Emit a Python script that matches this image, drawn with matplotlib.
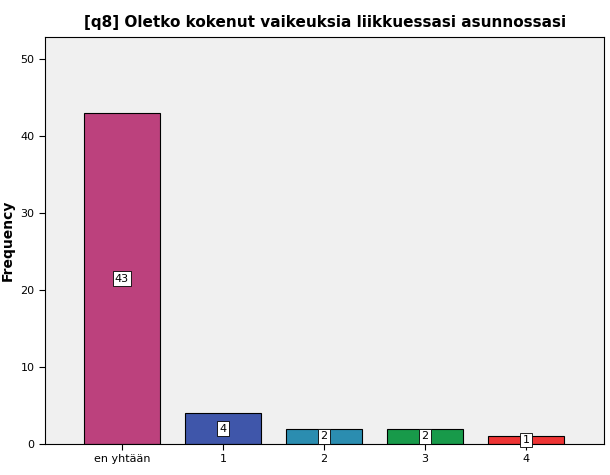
import matplotlib.pyplot as plt

categories = ["en yhtään", "1", "2", "3", "4"]
counts = [43, 4, 2, 2, 1]
colors = ["#BC417D", "#3F56AA", "#2B8DB0", "#189A4A", "#EE3434"]

fig = plt.figure(figsize=(6.10, 4.75), dpi=100)
ax = fig.add_axes([45 / 610, 31 / 475, 559 / 610, 407 / 475])
ax.set_facecolor("#F0F0F0")

x = range(len(categories))
ax.bar(x, counts, width=0.75, color=colors, edgecolor="black", linewidth=0.8, zorder=2)
for xi, c in zip(x, counts):
    ax.text(xi, c / 2, str(c), ha="center", va="center", fontsize=8,
            bbox=dict(boxstyle="square,pad=0.2", fc="white", ec="black", lw=0.6), zorder=3)

ax.set_xlim(-0.76, 4.77)
ax.set_ylim(0, 52.9)
ax.set_xticks(list(x))
ax.set_xticklabels(categories, fontsize=8)
ax.set_yticks([0, 10, 20, 30, 40, 50])
ax.tick_params(labelsize=8, length=4)
ax.set_ylabel("Frequency", fontsize=10, fontweight="bold")
ax.set_title("[q8] Oletko kokenut vaikeuksia liikkuessasi asunnossasi",
             fontsize=11, fontweight="bold", loc="left", x=0.07, pad=7)
for s in ax.spines.values():
    s.set_color("black")
    s.set_linewidth(0.8)

fig.savefig("out.png", dpi=100)
